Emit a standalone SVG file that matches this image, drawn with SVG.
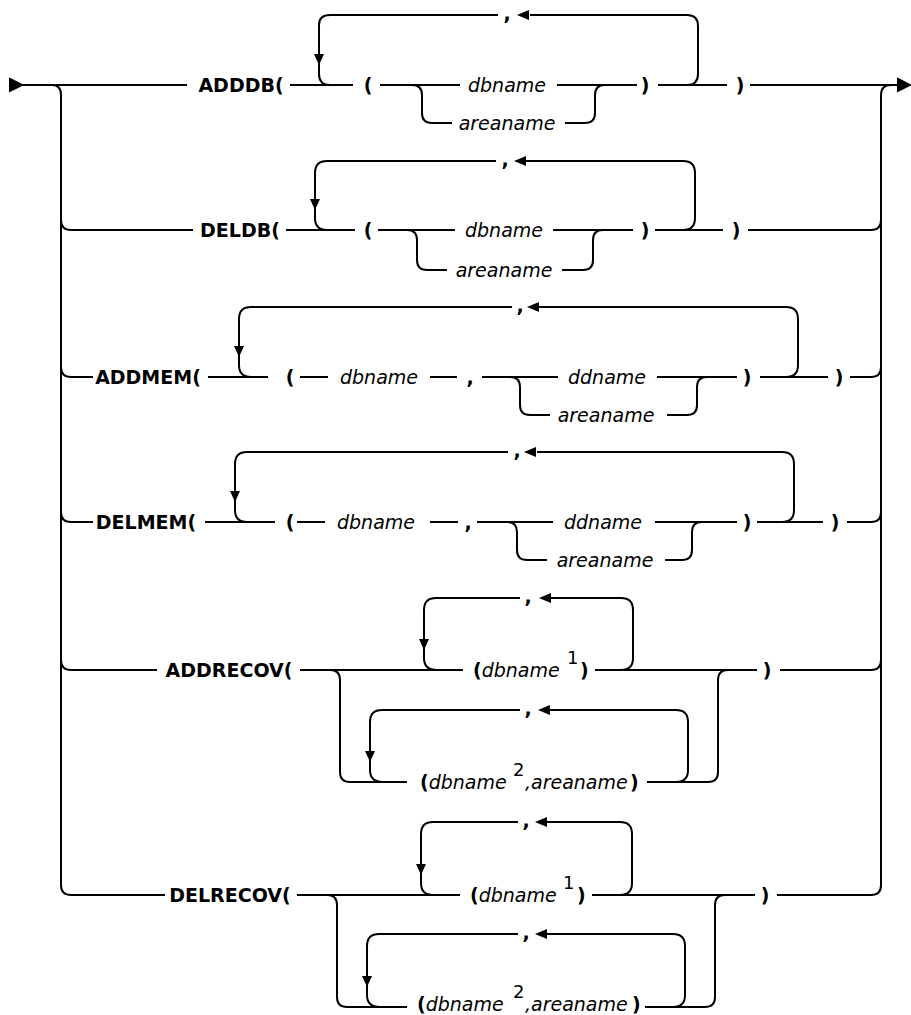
<svg xmlns="http://www.w3.org/2000/svg" width="911" height="1015" viewBox="0 0 911 1015">
<style>
text{font-family:"DejaVu Sans","Liberation Sans",sans-serif;font-size:19px;fill:#000}
.k{font-weight:bold;text-anchor:middle}
.p{font-weight:bold;text-anchor:middle}
.ps{font-weight:bold}
.v{font-style:italic;text-anchor:middle}
.vs{font-style:italic;font-weight:normal}
.s{font-size:18px}
.ln{fill:none;stroke:#000;stroke-width:2}
.ah{fill:#000}
</style>
<defs>
<path id="ad" d="M-5,-11 L5,-11 L0,0 Z"/>
<path id="al" d="M0,0 L12,-5 L12,5 Z"/>
</defs>
<g id="connectors" class="ln">
<path d="M22,85 H187"/>
<path d="M52,85 Q61,85 61,95 V885 Q61,895 71,895 H165"/>
<path d="M777,895 H871 Q881,895 881,885 V95 Q881,85 891,85"/>
<path d="M10,79 L22,85 L10,91 Z" class="ah"/>
<path d="M898,79 L910,85 L898,91 Z" class="ah"/>
<!-- row 1 -->
<path d="M290,85 H353"/>
<path d="M330,85 Q319,85 319,74 V25 Q319,15 330,15 H498"/>
<path d="M530,15 H687 Q698,15 698,26 V74 Q698,85 687,85"/>
<path d="M380,85 H460"/>
<path d="M412,85 Q422,85 422,95 V113 Q422,123 432,123 H452"/>
<path d="M557,85 H637"/>
<path d="M565,123 H585 Q595,123 595,113 V95 Q595,85 605,85"/>
<path d="M658,85 H727"/>
<path d="M750,85 H898"/>
<!-- row 2 -->
<path d="M61,220 Q61,230 71,230 H193"/>
<path d="M286,230 H355"/>
<path d="M327,230 Q315,230 315,218 V173 Q315,161 327,161 H496"/>
<path d="M526,161 H683 Q695,161 695,173 V218 Q695,230 683,230"/>
<path d="M378,230 H455"/>
<path d="M407,230 Q417,230 417,240 V260 Q417,270 427,270 H447"/>
<path d="M553,230 H633"/>
<path d="M562,270 H583 Q593,270 593,260 V240 Q593,230 603,230"/>
<path d="M655,230 H723"/>
<path d="M748,230 H871 Q881,230 881,220"/>
<!-- row 3 -->
<path d="M61,367 Q61,377 71,377 H93"/>
<path d="M208,377 H268"/>
<path d="M251,377 Q239,377 239,365 V319 Q239,307 251,307 H512"/>
<path d="M539,307 H786 Q798,307 798,319 V365 Q798,377 786,377"/>
<path d="M300,377 H328"/>
<path d="M430,377 H457"/>
<path d="M482,377 H558"/>
<path d="M510,377 Q520,377 520,387 V405 Q520,415 530,415 H550"/>
<path d="M657,377 H737"/>
<path d="M667,415 H687 Q697,415 697,405 V387 Q697,377 707,377"/>
<path d="M760,377 H828"/>
<path d="M850,377 H871 Q881,377 881,367"/>
<!-- row 4 -->
<path d="M61,512 Q61,522 71,522 H93"/>
<path d="M205,522 H275"/>
<path d="M247,522 Q235,522 235,510 V464 Q235,452 247,452 H508"/>
<path d="M537,452 H782 Q794,452 794,464 V510 Q794,522 782,522"/>
<path d="M297,522 H325"/>
<path d="M430,522 H458"/>
<path d="M477,522 H553"/>
<path d="M507,522 Q517,522 517,532 V550 Q517,560 527,560 H547"/>
<path d="M655,522 H737"/>
<path d="M665,560 H682 Q692,560 692,550 V532 Q692,522 702,522"/>
<path d="M757,522 H823"/>
<path d="M847,522 H871 Q881,522 881,512"/>
<!-- row 5 -->
<path d="M61,660 Q61,670 71,670 H157"/>
<path d="M300,670 H463"/>
<path d="M330,670 Q340,670 340,680 V772 Q340,782 350,782 H407"/>
<path d="M437,670 Q424,670 424,658 V610 Q424,598 436,598 H520"/>
<path d="M551,598 H621 Q633,598 633,610 V658 Q633,670 621,670"/>
<path d="M595,670 H757"/>
<path d="M780,670 H871 Q881,670 881,660"/>
<path d="M647,782 H708 Q718,782 718,772 V680 Q718,670 728,670"/>
<path d="M383,782 Q370,782 370,770 V722 Q370,710 382,710 H520"/>
<path d="M550,710 H676 Q688,710 688,722 V770 Q688,782 676,782"/>
<!-- row 6 -->
<path d="M297,895 H460"/>
<path d="M327,895 Q337,895 337,905 V997 Q337,1007 347,1007 H407"/>
<path d="M433,895 Q421,895 421,883 V834 Q421,822 433,822 H518"/>
<path d="M547,822 H620 Q632,822 632,834 V883 Q632,895 620,895"/>
<path d="M592,895 H755"/>
<path d="M645,1007 H705 Q715,1007 715,997 V905 Q715,895 725,895"/>
<path d="M380,1007 Q367,1007 367,995 V946 Q367,934 379,934 H518"/>
<path d="M547,934 H673 Q685,934 685,946 V995 Q685,1007 673,1007"/>
</g>
<g id="arrowheads" class="ah">
<use href="#ad" x="319" y="65"/>
<use href="#ad" x="315" y="210"/>
<use href="#ad" x="239" y="357"/>
<use href="#ad" x="235" y="502"/>
<use href="#ad" x="424" y="650"/>
<use href="#ad" x="370" y="762"/>
<use href="#ad" x="421" y="875"/>
<use href="#ad" x="367" y="987"/>
<use href="#al" x="517" y="15"/>
<use href="#al" x="514" y="161"/>
<use href="#al" x="527" y="307"/>
<use href="#al" x="524" y="452"/>
<use href="#al" x="539" y="598"/>
<use href="#al" x="538" y="710"/>
<use href="#al" x="535" y="822"/>
<use href="#al" x="535" y="934"/>
</g>
<g id="row-adddb">
<text class="k" x="241" y="92">ADDDB(</text>
<text class="p" x="368" y="92">(</text>
<text class="v" x="507" y="92">dbname</text>
<text class="v" x="507" y="130">areaname</text>
<text class="p" x="645" y="92">)</text>
<text class="p" x="740" y="92">)</text>
<text class="p" x="507" y="20">,</text>
</g>
<g id="row-deldb">
<text class="k" x="240" y="237">DELDB(</text>
<text class="p" x="368" y="237">(</text>
<text class="v" x="504" y="237">dbname</text>
<text class="v" x="504" y="277">areaname</text>
<text class="p" x="645" y="237">)</text>
<text class="p" x="736" y="237">)</text>
<text class="p" x="505" y="166">,</text>
</g>
<g id="row-addmem">
<text class="k" x="148" y="384">ADDMEM(</text>
<text class="p" x="290" y="384">(</text>
<text class="v" x="379" y="384">dbname</text>
<text class="p" x="470" y="384">,</text>
<text class="v" x="607" y="384">ddname</text>
<text class="v" x="606" y="422">areaname</text>
<text class="p" x="747" y="384">)</text>
<text class="p" x="839" y="384">)</text>
<text class="p" x="520" y="312">,</text>
</g>
<g id="row-delmem">
<text class="k" x="146" y="529">DELMEM(</text>
<text class="p" x="290" y="529">(</text>
<text class="v" x="376" y="529">dbname</text>
<text class="p" x="468" y="529">,</text>
<text class="v" x="603" y="529">ddname</text>
<text class="v" x="605" y="567">areaname</text>
<text class="p" x="747" y="529">)</text>
<text class="p" x="835" y="529">)</text>
<text class="p" x="517" y="457">,</text>
</g>
<g id="row-addrecov">
<text class="k" x="229" y="677">ADDRECOV(</text>
<text class="ps" x="473" y="677">(<tspan class="vs">dbname</tspan></text>
<text class="s" x="567" y="664">1</text>
<text class="ps" x="580" y="677">)</text>
<text class="p" x="767" y="677">)</text>
<text class="p" x="528" y="603">,</text>
<text class="ps" x="420" y="789">(<tspan class="vs">dbname</tspan></text>
<text class="s" x="513" y="776">2</text>
<text class="vs" x="525" y="789">,areaname</text>
<text class="ps" x="630" y="789">)</text>
<text class="p" x="528" y="715">,</text>
</g>
<g id="row-delrecov">
<text class="k" x="230" y="902">DELRECOV(</text>
<text class="ps" x="470" y="902">(<tspan class="vs">dbname</tspan></text>
<text class="s" x="563" y="889">1</text>
<text class="ps" x="577" y="902">)</text>
<text class="p" x="765" y="902">)</text>
<text class="p" x="526" y="827">,</text>
<text class="ps" x="417" y="1011">(<tspan class="vs">dbname</tspan></text>
<text class="s" x="513" y="998">2</text>
<text class="vs" x="525" y="1011">,areaname</text>
<text class="ps" x="632" y="1011">)</text>
<text class="p" x="526" y="939">,</text>
</g>
</svg>
